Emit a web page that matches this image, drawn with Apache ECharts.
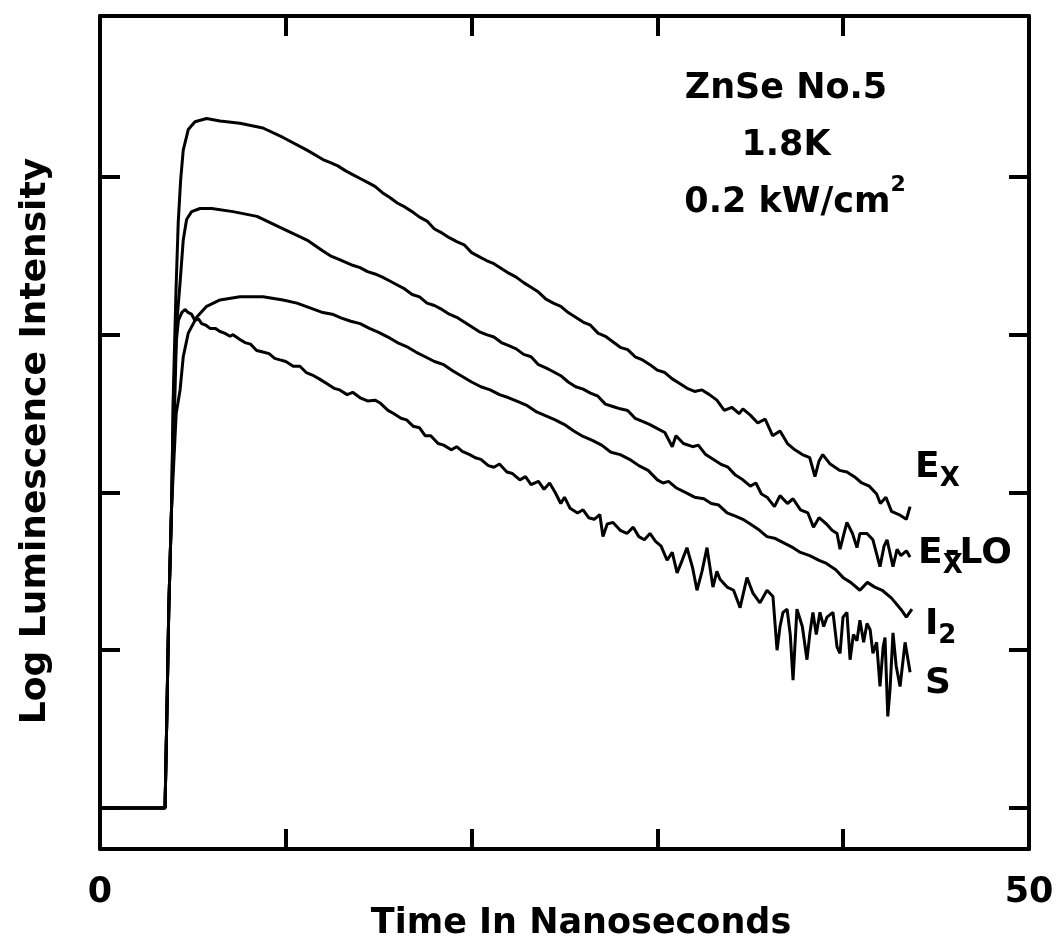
<!DOCTYPE html>
<html>
<head>
<meta charset="utf-8">
<script src="https://cdn.jsdelivr.net/npm/echarts@6/dist/echarts.min.js"></script>
<style>
  html, body { margin: 0; padding: 0; background: #fff; }
  #chart { width: 1060px; height: 939px; }
</style>
</head>
<body>
<div id="chart"></div>
<script>
// Time axis (ns) tick positions and labels
const xTickValues = [10, 20, 30, 40];
const xLabelValues = [0, 50];
// Log intensity axis (decades, unlabeled) tick positions
const yTickValues = [0, 1, 2, 3, 4];

// [time ns, log10 intensity (arb.)]
const exData = [[0,0],[3.5,0],[3.6,0.6],[3.7,1.25],[3.85,1.9],[3.95,2.65],[4.09,3.28],[4.21,3.71],[4.34,3.98],[4.48,4.17],[4.75,4.30],[5.11,4.35],[5.74,4.37],[6.46,4.355],[7.53,4.34],[8.77,4.31],[9.85,4.25],[11.14,4.17],[12.0,4.11],[12.4,4.09],[12.8,4.07],[13.2,4.04],[13.6,4.015],[14.0,3.99],[14.4,3.965],[14.8,3.94],[15.2,3.90],[15.6,3.87],[16.0,3.835],[16.4,3.81],[16.8,3.78],[17.2,3.745],[17.6,3.72],[18.0,3.67],[18.4,3.645],[18.8,3.615],[19.2,3.59],[19.6,3.57],[20.0,3.52],[20.4,3.495],[20.8,3.47],[21.2,3.45],[21.6,3.42],[22.0,3.39],[22.4,3.365],[22.8,3.33],[23.2,3.30],[23.6,3.27],[24.0,3.225],[24.4,3.20],[24.8,3.18],[25.2,3.14],[25.6,3.11],[26.0,3.08],[26.4,3.06],[26.8,3.01],[27.2,2.99],[27.6,2.955],[28.0,2.92],[28.4,2.905],[28.8,2.86],[29.2,2.84],[29.6,2.81],[30.0,2.775],[30.4,2.76],[30.8,2.72],[31.2,2.69],[31.6,2.66],[32.0,2.64],[32.4,2.65],[32.8,2.62],[33.2,2.585],[33.6,2.52],[34.0,2.54],[34.4,2.50],[34.6,2.53],[35.0,2.49],[35.4,2.44],[35.8,2.465],[36.2,2.36],[36.6,2.39],[37.0,2.31],[37.4,2.27],[37.8,2.24],[38.2,2.22],[38.48,2.10],[38.7,2.20],[38.9,2.24],[39.3,2.18],[39.8,2.14],[40.2,2.13],[40.6,2.10],[41.0,2.06],[41.4,2.04],[41.8,1.99],[42.0,1.93],[42.3,1.97],[42.6,1.88],[43.0,1.86],[43.4,1.83],[43.6,1.91]];

const exLoData = [[0,0],[3.5,0],[3.6,0.6],[3.7,1.25],[3.85,1.9],[4.04,2.65],[4.13,3.07],[4.31,3.33],[4.48,3.60],[4.66,3.73],[4.93,3.78],[5.38,3.80],[6.01,3.80],[7.16,3.78],[8.45,3.75],[9.69,3.68],[11.14,3.60],[12.0,3.53],[12.4,3.50],[12.8,3.48],[13.2,3.46],[13.6,3.44],[14.0,3.425],[14.4,3.40],[14.8,3.385],[15.2,3.365],[15.6,3.34],[16.0,3.315],[16.4,3.29],[16.8,3.255],[17.2,3.24],[17.6,3.20],[18.0,3.185],[18.4,3.16],[18.8,3.13],[19.2,3.11],[19.6,3.08],[20.0,3.05],[20.4,3.02],[20.8,3.00],[21.2,2.985],[21.6,2.95],[22.0,2.93],[22.4,2.91],[22.8,2.875],[23.2,2.86],[23.6,2.81],[24.0,2.79],[24.4,2.765],[24.8,2.74],[25.2,2.70],[25.6,2.67],[26.0,2.655],[26.4,2.63],[26.8,2.61],[27.2,2.56],[27.6,2.545],[28.0,2.53],[28.4,2.52],[28.8,2.47],[29.2,2.45],[29.6,2.43],[30.0,2.405],[30.4,2.38],[30.8,2.29],[31.0,2.36],[31.4,2.31],[31.9,2.29],[32.2,2.30],[32.6,2.24],[33.0,2.21],[33.4,2.18],[33.8,2.16],[34.2,2.11],[34.6,2.08],[35.0,2.04],[35.3,2.06],[35.6,1.99],[35.9,1.97],[36.3,1.91],[36.6,1.98],[37.0,1.93],[37.3,1.96],[37.7,1.89],[38.1,1.87],[38.4,1.78],[38.7,1.84],[39.1,1.80],[39.4,1.76],[39.67,1.74],[39.83,1.64],[40.0,1.72],[40.2,1.81],[40.5,1.74],[40.74,1.65],[40.9,1.74],[41.28,1.74],[41.6,1.70],[41.98,1.53],[42.2,1.66],[42.36,1.70],[42.68,1.53],[42.9,1.64],[43.1,1.60],[43.4,1.63],[43.6,1.59]];

const i2Data = [[0,0],[3.5,0],[3.6,0.6],[3.7,1.25],[3.85,1.9],[4.1,2.5],[4.31,2.65],[4.48,2.86],[4.75,3.01],[5.2,3.11],[5.74,3.18],[6.46,3.22],[7.53,3.24],[8.77,3.24],[9.85,3.22],[10.6,3.20],[11.3,3.17],[12.0,3.14],[12.5,3.13],[13.0,3.105],[13.5,3.085],[14.0,3.07],[14.5,3.04],[15.0,3.015],[15.5,2.985],[16.0,2.95],[16.5,2.925],[17.0,2.89],[17.5,2.86],[18.0,2.83],[18.5,2.81],[19.0,2.77],[19.5,2.735],[20.0,2.70],[20.5,2.67],[21.0,2.65],[21.5,2.62],[22.0,2.60],[22.5,2.575],[23.0,2.55],[23.5,2.51],[24.0,2.485],[24.5,2.46],[25.0,2.43],[25.5,2.39],[26.0,2.355],[26.5,2.33],[27.0,2.30],[27.5,2.255],[28.0,2.24],[28.5,2.21],[29.0,2.17],[29.5,2.14],[30.0,2.08],[30.3,2.06],[30.6,2.07],[31.0,2.03],[31.5,2.00],[32.0,1.97],[32.5,1.96],[32.9,1.93],[33.3,1.92],[33.75,1.87],[34.2,1.85],[34.6,1.83],[35.0,1.80],[35.5,1.76],[35.9,1.72],[36.3,1.71],[36.8,1.68],[37.3,1.65],[37.7,1.62],[38.2,1.60],[38.7,1.57],[39.1,1.55],[39.6,1.51],[40.0,1.46],[40.4,1.43],[40.9,1.38],[41.3,1.43],[41.7,1.40],[42.1,1.38],[42.6,1.33],[43.1,1.26],[43.4,1.21],[43.7,1.26]];

const sData = [[0,0],[3.5,0],[3.6,0.6],[3.7,1.25],[3.85,1.9],[3.95,2.6],[4.1,2.95],[4.22,3.09],[4.4,3.14],[4.57,3.16],[4.75,3.14],[4.93,3.13],[5.11,3.09],[5.3,3.10],[5.47,3.07],[5.7,3.06],[5.92,3.04],[6.2,3.04],[6.46,3.02],[6.7,3.01],[7.0,2.99],[7.16,3.00],[7.53,2.97],[7.8,2.95],[8.1,2.94],[8.43,2.90],[8.77,2.89],[9.1,2.88],[9.4,2.85],[9.69,2.84],[10.0,2.83],[10.4,2.80],[10.76,2.80],[11.1,2.76],[11.5,2.74],[11.8,2.72],[12.2,2.69],[12.6,2.66],[12.9,2.65],[13.3,2.62],[13.6,2.635],[14.0,2.60],[14.4,2.58],[14.8,2.585],[15.1,2.565],[15.5,2.52],[15.8,2.50],[16.2,2.47],[16.5,2.46],[16.85,2.42],[17.2,2.41],[17.5,2.36],[17.8,2.36],[18.2,2.31],[18.5,2.30],[18.9,2.27],[19.2,2.29],[19.5,2.26],[19.9,2.24],[20.2,2.22],[20.5,2.21],[20.9,2.17],[21.2,2.16],[21.5,2.18],[21.9,2.13],[22.2,2.12],[22.6,2.08],[22.9,2.10],[23.2,2.05],[23.6,2.07],[23.9,2.02],[24.2,2.06],[24.5,2.00],[24.8,1.93],[25.0,1.97],[25.3,1.90],[25.7,1.87],[26.0,1.89],[26.3,1.84],[26.6,1.83],[26.9,1.86],[27.07,1.72],[27.3,1.80],[27.61,1.81],[28.0,1.76],[28.36,1.74],[28.7,1.78],[29.0,1.72],[29.3,1.70],[29.6,1.74],[29.9,1.69],[30.2,1.66],[30.52,1.57],[30.8,1.62],[31.06,1.49],[31.3,1.56],[31.59,1.65],[31.9,1.52],[32.13,1.38],[32.4,1.50],[32.67,1.65],[32.99,1.40],[33.2,1.50],[33.37,1.45],[33.75,1.40],[34.1,1.38],[34.45,1.27],[34.82,1.46],[35.15,1.36],[35.52,1.30],[35.9,1.38],[36.22,1.34],[36.44,1.00],[36.6,1.15],[36.76,1.24],[36.98,1.26],[37.15,1.10],[37.30,0.81],[37.51,1.26],[37.8,1.15],[38.05,0.94],[38.21,1.11],[38.37,1.24],[38.55,1.10],[38.75,1.24],[38.95,1.15],[39.13,1.21],[39.45,1.24],[39.67,1.02],[39.83,0.98],[39.99,1.21],[40.20,1.24],[40.37,0.94],[40.55,1.10],[40.74,1.06],[40.90,1.19],[41.1,1.05],[41.28,1.17],[41.45,1.13],[41.60,0.98],[41.8,1.05],[41.98,0.77],[42.15,1.02],[42.25,1.08],[42.40,0.58],[42.52,0.75],[42.68,1.11],[42.85,0.90],[43.06,0.77],[43.33,1.05],[43.60,0.86]];

const FONT = 'DejaVu Sans';
const chart = echarts.init(document.getElementById('chart'), null, { renderer: 'canvas' });

const richLbl = {
  e: { fontFamily: FONT, fontWeight: 'bold', fontSize: 36, lineHeight: 36, verticalAlign: 'top', color: '#000' },
  s: { fontFamily: FONT, fontWeight: 'bold', fontSize: 26, lineHeight: 26, padding: [24, 0, 0, 0], color: '#000' },
  sn: { fontFamily: FONT, fontWeight: 'bold', fontSize: 26, lineHeight: 26, padding: [24, 0, 0, 0], width: 2, color: '#000' }
};

function lineSeries(name, data, labelText, offset) {
  return {
    name: name,
    type: 'line',
    data: data,
    showSymbol: false,
    symbol: 'none',
    clip: true,
    lineStyle: { color: '#000', width: 3 },
    endLabel: {
      show: true,
      formatter: labelText,
      offset: offset,
      distance: 8,
      rich: richLbl
    },
    z: 3
  };
}

const axisLineStyle = { onZero: false, lineStyle: { color: '#000', width: 4 } };
const tickStyle = { inside: true, length: 20, lineStyle: { color: '#000', width: 4 } };

const option = {
  animation: false,
  backgroundColor: '#fff',
  title: {
    text: 'ZnSe No.5\n1.8K\n{a|0.2 kW/cm}{sup|2}',
    left: 781,
    top: 55,
    textAlign: 'center',
    padding: 5,
    textStyle: {
      fontFamily: FONT, fontWeight: 'bold', fontSize: 35, lineHeight: 57, color: '#000',
      rich: {
        a: { fontFamily: FONT, fontWeight: 'bold', fontSize: 35, lineHeight: 57, padding: [0, 0, 0, 18], color: '#000' },
        sup: { fontFamily: FONT, fontWeight: 'bold', fontSize: 22, lineHeight: 18, verticalAlign: 'top', color: '#000' }
      }
    }
  },
  grid: { left: 100, right: 31, top: 16, bottom: 90, containLabel: false, outerBoundsMode: 'none' },
  xAxis: [
    {
      type: 'value', position: 'bottom', min: 0, max: 50,
      axisLine: axisLineStyle,
      axisTick: Object.assign({ customValues: xTickValues }, tickStyle),
      axisLabel: { customValues: xLabelValues, margin: 26, fontFamily: FONT, fontWeight: 'bold', fontSize: 35, color: '#000' },
      splitLine: { show: false },
      name: 'Time In Nanoseconds', nameLocation: 'middle', nameGap: 57, nameMoveOverlap: false,
      nameTextStyle: { fontFamily: FONT, fontWeight: 'bold', fontSize: 35, color: '#000', padding: [0, 0, 0, 33] }
    },
    {
      type: 'value', position: 'top', min: 0, max: 50,
      axisLine: axisLineStyle,
      axisTick: Object.assign({ customValues: xTickValues }, tickStyle),
      axisLabel: { show: false },
      splitLine: { show: false }
    }
  ],
  yAxis: [
    {
      type: 'value', position: 'left', min: -0.26, max: 5.02,
      axisLine: axisLineStyle,
      axisTick: Object.assign({ customValues: yTickValues }, tickStyle),
      axisLabel: { show: false },
      splitLine: { show: false },
      name: 'Log Luminescence Intensity', nameLocation: 'middle', nameRotate: 90, nameGap: 46, nameMoveOverlap: false,
      nameTextStyle: { fontFamily: FONT, fontWeight: 'bold', fontSize: 36, color: '#000', padding: [0, 17, 0, 0] }
    },
    {
      type: 'value', position: 'right', min: -0.26, max: 5.02,
      axisLine: axisLineStyle,
      axisTick: Object.assign({ customValues: yTickValues }, tickStyle),
      axisLabel: { show: false },
      splitLine: { show: false }
    }
  ],
  series: [
    lineSeries('Ex', exData, '{e|E}{s|X}', [-3, -39]),
    lineSeries('Ex-LO', exLoData, '{e|E}{sn|X}{e|-LO}', [0, -3]),
    lineSeries('I2', i2Data, '{e|I}{s|2}', [5, 15]),
    lineSeries('S', sData, '{e|S}', [7, 11])
  ]
};
chart.setOption(option);
</script>
</body>
</html>
